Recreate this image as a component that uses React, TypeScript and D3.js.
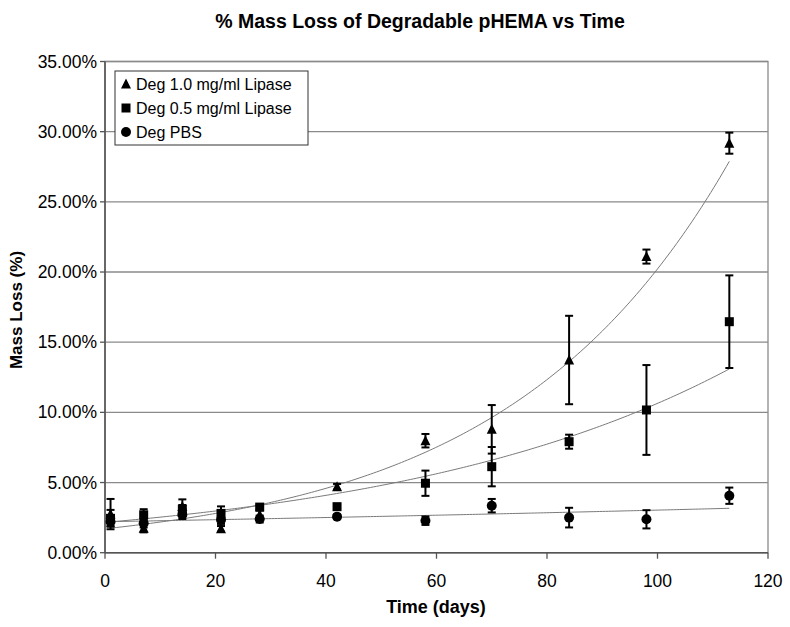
import React from "react";
import * as d3 from "d3";

const days = [1, 7, 14, 21, 28, 42, 58, 70, 84, 98, 113];
const lipase10 = [2.75, 1.75, 3.3, 1.7, 2.7, 4.7, 7.98, 8.79, 13.73, 21.1, 29.18];
const lipase10Err = [1.08, 0.3, 0.5, 0.2, 0.3, 0.2, 0.48, 1.73, 3.15, 0.5, 0.75];
const lipase05 = [2.45, 2.7, 3.1, 2.8, 3.25, 3.28, 4.95, 6.13, 7.91, 10.17, 16.46];
const lipase05Err = [0.6, 0.4, 0.3, 0.5, 0.15, 0.1, 0.9, 1.4, 0.5, 3.2, 3.3];
const pbs = [2.2, 2.1, 2.7, 2.35, 2.4, 2.57, 2.28, 3.35, 2.5, 2.38, 4.06];
const pbsErr = [0.3, 0.3, 0.3, 0.3, 0.25, 0.15, 0.3, 0.48, 0.7, 0.65, 0.58];
const seriesNames = ["Deg 1.0 mg/ml Lipase", "Deg 0.5 mg/ml Lipase", "Deg PBS"];
const xTicks = [0, 20, 40, 60, 80, 100, 120];
const yTicks = [0, 5, 10, 15, 20, 25, 30, 35];
const title = "% Mass Loss of Degradable pHEMA vs Time";
const xTitle = "Time (days)";
const yTitle = "Mass Loss (%)";

const W = 790, H = 627;
const L = 105, R = 768, T = 61.5, B = 552.7;
const FONT = "'Liberation Sans', Arial, Helvetica, sans-serif";

function expFit(xs: number[], ys: number[]) {
  const ly = ys.map((v) => Math.log(v));
  const mx = d3.mean(xs) as number;
  const my = d3.mean(ly) as number;
  let sxy = 0, sxx = 0;
  xs.forEach((xv, i) => {
    sxy += (xv - mx) * (ly[i] - my);
    sxx += (xv - mx) * (xv - mx);
  });
  const b = sxy / sxx;
  const a = Math.exp(my - b * mx);
  return { a, b };
}

function Marker({ kind, x, y }: { kind: number; x: number; y: number }) {
  if (kind === 0) {
    const s = 10;
    const h = s * 0.9;
    return (
      <path
        d={`M${x},${y - h / 2 - 1}L${x + s / 2},${y + h / 2}L${x - s / 2},${y + h / 2}Z`}
        fill="#000"
      />
    );
  }
  if (kind === 1) {
    return <rect x={x - 4.5} y={y - 4.5} width={9} height={9} fill="#000" />;
  }
  return <circle cx={x} cy={y} r={5} fill="#000" />;
}

export default function App() {
  const x = d3.scaleLinear().domain([0, 120]).range([L, R]);
  const y = d3.scaleLinear().domain([0, 35]).range([B, T]);
  const series = [
    { vals: lipase10, errs: lipase10Err },
    { vals: lipase05, errs: lipase05Err },
    { vals: pbs, errs: pbsErr },
  ];

  const trend = series.map((s) => {
    const { a, b } = expFit(days, s.vals);
    const x0 = days[0], x1 = days[days.length - 1];
    const pts = d3.range(0, 201).map((i) => x0 + ((x1 - x0) * i) / 200);
    return d3
      .line<number>()
      .x((d) => x(d))
      .y((d) => y(a * Math.exp(b * d)))(pts) as string;
  });

  return (
    <svg
      width={W}
      height={H}
      style={{ position: "absolute", left: 0, top: 0, background: "#fff" }}
      fontFamily={FONT}
    >
      <rect x={0} y={0} width={W} height={H} fill="#fff" />
      <text x={420} y={28} textAnchor="middle" fontSize={19.5} fontWeight="bold">
        {title}
      </text>
      {yTicks.map((t) => (
        <line key={t} x1={L} x2={R} y1={y(t)} y2={y(t)} stroke="#8a8a8a" strokeWidth={1.3} />
      ))}
      <rect x={L} y={T} width={R - L} height={B - T} fill="none" stroke="#8a8a8a" strokeWidth={1.3} />
      <line x1={L} x2={L} y1={T} y2={B} stroke="#555" strokeWidth={1.6} />
      <line x1={L} x2={R} y1={B} y2={B} stroke="#555" strokeWidth={1.6} />
      {yTicks.map((t) => (
        <g key={"yt" + t}>
          <line x1={L - 5} x2={L} y1={y(t)} y2={y(t)} stroke="#555" strokeWidth={1.3} />
          <text x={97} y={y(t) + 6} textAnchor="end" fontSize={17.5}>
            {t.toFixed(2) + "%"}
          </text>
        </g>
      ))}
      {xTicks.map((t) => (
        <g key={"xt" + t}>
          <line x1={x(t)} x2={x(t)} y1={B} y2={B + 6} stroke="#555" strokeWidth={1.3} />
          <text x={x(t)} y={587} textAnchor="middle" fontSize={17.5}>
            {t}
          </text>
        </g>
      ))}
      <text x={436} y={613} textAnchor="middle" fontSize={18} fontWeight="bold">
        {xTitle}
      </text>
      <text
        transform={`translate(22,${310}) rotate(-90)`}
        textAnchor="middle"
        fontSize={17}
        fontWeight="bold"
      >
        {yTitle}
      </text>
      {trend.map((d, i) => (
        <path key={"tr" + i} d={d} fill="none" stroke="#7a7a7a" strokeWidth={1} />
      ))}
      {series.map((s, si) => (
        <g key={"s" + si}>
          {s.vals.map((v, i) => {
            const cx = x(days[i]);
            const yt = y(v + s.errs[i]);
            const yb = y(v - s.errs[i]);
            return (
              <g key={i}>
                <line x1={cx} x2={cx} y1={yt} y2={yb} stroke="#000" strokeWidth={2} />
                <line x1={cx - 4} x2={cx + 4} y1={yt} y2={yt} stroke="#000" strokeWidth={2} />
                <line x1={cx - 4} x2={cx + 4} y1={yb} y2={yb} stroke="#000" strokeWidth={2} />
              </g>
            );
          })}
          {s.vals.map((v, i) => (
            <Marker key={"m" + i} kind={si} x={x(days[i])} y={y(v)} />
          ))}
        </g>
      ))}
      <rect x={115} y={71} width={193} height={74} fill="#fff" stroke="#333" strokeWidth={1} />
      {seriesNames.map((n, i) => (
        <g key={n}>
          <Marker kind={i} x={126} y={84 + i * 24} />
          <text x={136} y={90 + i * 24} fontSize={16}>
            {n}
          </text>
        </g>
      ))}
    </svg>
  );
}
